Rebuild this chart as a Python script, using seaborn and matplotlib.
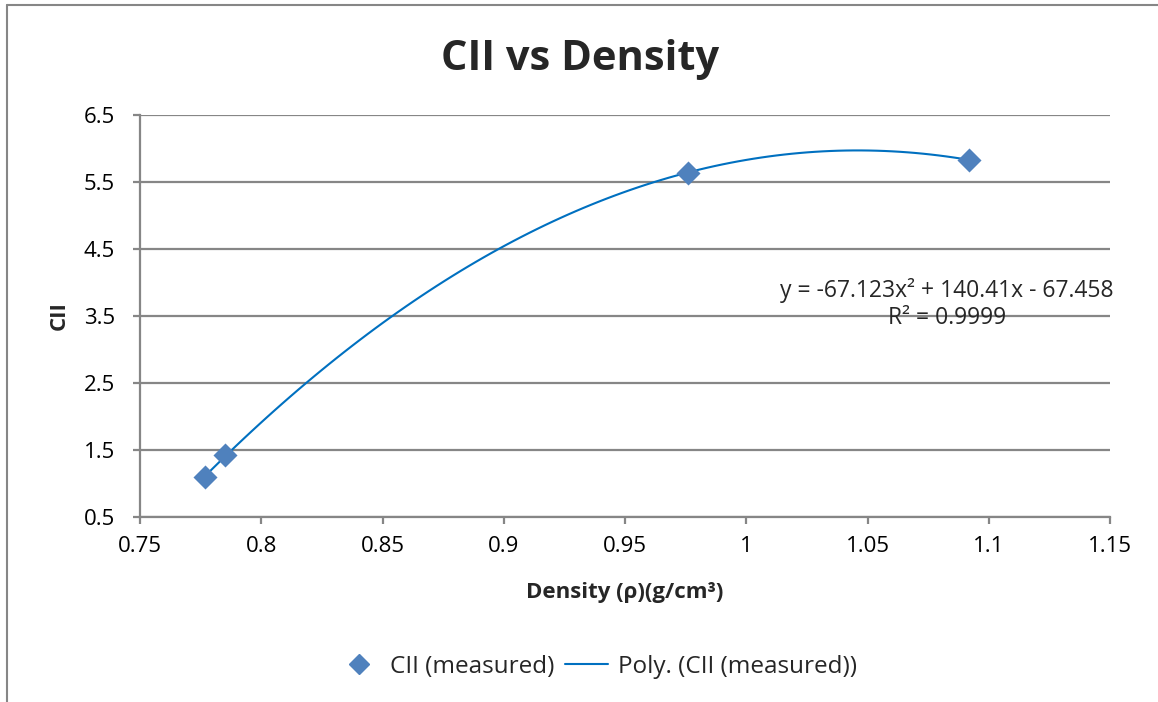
import numpy as np
import pandas as pd
import matplotlib
matplotlib.use("Agg")
import matplotlib.pyplot as plt
from matplotlib.lines import Line2D
import seaborn as sns

# values
density = [0.777, 0.785, 0.976, 1.092]
cii = [1.09, 1.43, 5.64, 5.83]
x_ticks = [0.75, 0.8, 0.85, 0.9, 0.95, 1, 1.05, 1.1, 1.15]
x_tick_labels = ["0.75", "0.8", "0.85", "0.9", "0.95", "1", "1.05", "1.1", "1.15"]
y_ticks = [0.5, 1.5, 2.5, 3.5, 4.5, 5.5, 6.5]
equation_text = "y = -67.123x² + 140.41x - 67.458\nR² = 0.9999"

df = pd.DataFrame({"density": density, "cii": cii})

sns.set_style("white")
plt.rcParams["font.family"] = ["Open Sans", "DejaVu Sans"]

grid_gray = "#868686"
fig = plt.figure(figsize=(11.58, 7.02), dpi=100)
ax = fig.add_axes([140 / 1158, 1 - 517 / 702, (1110 - 140) / 1158, (517 - 115) / 702])

# trend line (2nd order polynomial, like Excel's "Poly." trendline)
sns.regplot(data=df, x="density", y="cii", order=2, ci=None, scatter=False,
            truncate=True, ax=ax, color="#0070C0",
            line_kws={"linewidth": 1.5, "zorder": 3})
sns.scatterplot(data=df, x="density", y="cii", marker="D", s=150,
                color="#4F81BD", edgecolor="#4F81BD", linewidth=0,
                ax=ax, zorder=4)

ax.set_xlim(0.75, 1.15)
ax.set_ylim(0.5, 6.5)
ax.set_xticks(x_ticks)
ax.set_xticklabels(x_tick_labels)
ax.set_yticks(y_ticks)
ax.yaxis.grid(True, color=grid_gray, linewidth=1.6)
ax.set_axisbelow(True)
for side in ["top", "right"]:
    ax.spines[side].set_visible(False)
for side in ["left", "bottom"]:
    ax.spines[side].set_color(grid_gray)
    ax.spines[side].set_linewidth(1.6)
ax.tick_params(axis="both", direction="out", length=5, width=1.6,
               color=grid_gray, labelsize=16, labelcolor="black")
ax.tick_params(axis="x", pad=9, bottom=True)
ax.tick_params(axis="y", pad=13, left=True)

ax.set_xlabel("Density (ρ)(g/cm³)", fontsize=16, fontweight="bold", labelpad=18)
ax.set_ylabel("CII", fontsize=16, fontweight="bold", labelpad=10)
fig.text(580 / 1158, 1 - 60 / 702, "CII vs Density", ha="center", va="center",
         fontsize=30, fontweight="bold")

ax.text(947 / 1158, 1 - 304 / 702, equation_text, transform=fig.transFigure,
        ha="center", va="center", fontsize=16.5, linespacing=1.15)

handles = [
    Line2D([], [], marker="D", linestyle="none", color="#4F81BD", markersize=10),
    Line2D([], [], color="#0070C0", linewidth=1.5),
]
fig.legend(handles, ["CII (measured)", "Poly. (CII (measured))"], ncol=2,
           loc="center", bbox_to_anchor=(597 / 1158, 1 - 667 / 702),
           frameon=False, fontsize=17.5, handlelength=1.8, handletextpad=0.4,
           columnspacing=0.4)

# partial chart border visible at left and top of the screenshot
fig.add_artist(Line2D([7.5 / 1158, 7.5 / 1158], [0, 1 - 4.5 / 702], color=grid_gray,
                      linewidth=1.5, transform=fig.transFigure))
fig.add_artist(Line2D([7.5 / 1158, 1], [1 - 4.5 / 702, 1 - 4.5 / 702], color=grid_gray,
                      linewidth=1.5, transform=fig.transFigure))

fig.savefig("out.png", dpi=100)
